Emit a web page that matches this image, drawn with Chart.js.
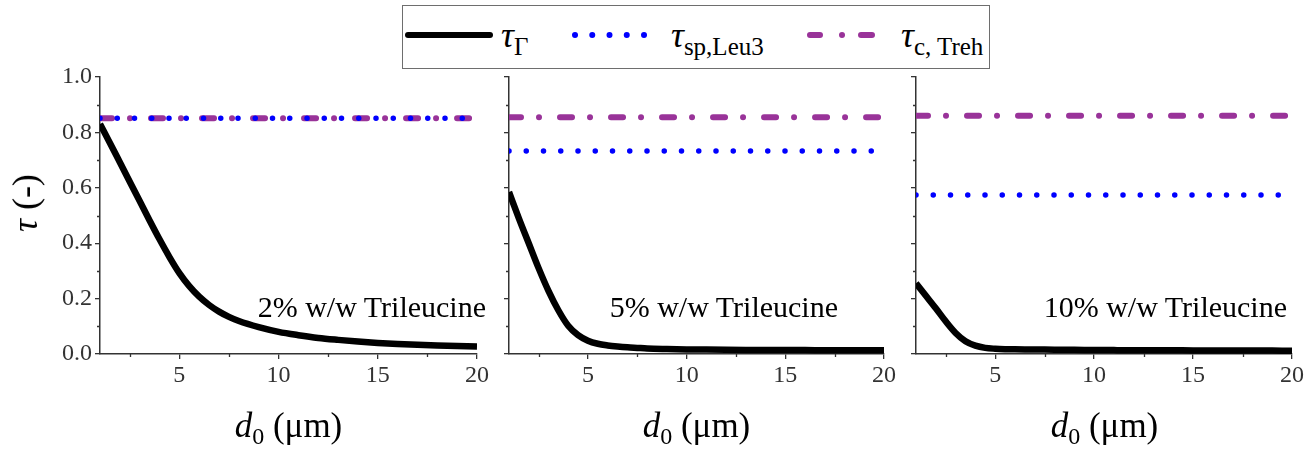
<!DOCTYPE html>
<html>
<head>
<meta charset="utf-8">
<script src="https://cdn.jsdelivr.net/npm/chart.js@4.4.1/dist/chart.umd.min.js"></script>
<style>
html,body{margin:0;padding:0;background:#fff;}
#wrap{position:relative;width:1306px;height:450px;overflow:hidden;background:#fff;font-family:'Liberation Serif','Times New Roman',serif;color:#000;}
canvas{position:absolute;left:0;top:0;}
svg{position:absolute;left:0;top:0;}
.t{position:absolute;white-space:nowrap;line-height:1;}
.sub{position:relative;}
</style>
</head>
<body>
<div id="wrap">
  <canvas id="c0" width="1306" height="450"></canvas>
  <canvas id="c1" width="1306" height="450"></canvas>
  <canvas id="c2" width="1306" height="450"></canvas>
  <svg width="1306" height="75" viewBox="0 0 1306 75">
    <rect x="402.5" y="5.5" width="587" height="63" fill="#fff" stroke="#6e6e6e" stroke-width="1"/>
    <line x1="408" y1="35" x2="490" y2="35" stroke="#000" stroke-width="6" stroke-linecap="round"/>
    <line x1="575" y1="35" x2="645" y2="35" stroke="#0000ff" stroke-width="6" stroke-linecap="round" stroke-dasharray="0.01 17.24"/>
    <line x1="810" y1="35" x2="872" y2="35" stroke="#993399" stroke-width="6" stroke-linecap="round" stroke-dasharray="10 22 0.01 19 11 100"/>
  </svg>
  <div class="t leg" data-x="501" data-b="47" data-fs="36"><i>τ</i><span class="sub" style="font-size:25px;top:8px">Γ</span></div>
  <div class="t leg" data-x="671" data-b="47" data-fs="36"><i>τ</i><span class="sub" style="font-size:25px;top:8px">sp,Leu3</span></div>
  <div class="t leg" data-x="901" data-b="47" data-fs="36"><i>τ</i><span class="sub" style="font-size:25px;top:8px">c, Treh</span></div>

  <div class="t pl" id="pl0"></div>
  <div class="t pl" id="pl1"></div>
  <div class="t pl" id="pl2"></div>

  <div class="t xt" id="xt0"><i>d</i><span class="sub" style="font-size:24px;top:7px">0</span> (μm)</div>
  <div class="t xt" id="xt1"><i>d</i><span class="sub" style="font-size:24px;top:7px">0</span> (μm)</div>
  <div class="t xt" id="xt2"><i>d</i><span class="sub" style="font-size:24px;top:7px">0</span> (μm)</div>

  <div class="t" id="yt" style="font-size:36px;"><i>τ</i> (-)</div>
</div>
<script>
// ---- data ----
const d0 = [1, 1.5, 2, 2.5, 3, 3.5, 4, 4.5, 5, 5.5, 6, 6.5, 7, 7.5, 8, 9, 10, 11, 12, 13, 14, 15, 16, 17, 18, 19, 20];
const tauGamma2 = [0.83, 0.762, 0.692, 0.622, 0.552, 0.482, 0.414, 0.350, 0.292, 0.245, 0.207, 0.177, 0.153, 0.134, 0.119, 0.097, 0.080, 0.068, 0.058, 0.051, 0.045, 0.040, 0.036, 0.033, 0.031, 0.029, 0.027];
const tauGamma5 = [0.585, 0.49, 0.40, 0.31, 0.228, 0.158, 0.102, 0.068, 0.048, 0.037, 0.031, 0.027, 0.024, 0.022, 0.020, 0.018, 0.0165, 0.0158, 0.0152, 0.0148, 0.0145, 0.0142, 0.014, 0.0138, 0.0136, 0.0134, 0.0132];
const tauGamma10 = [0.255, 0.21, 0.165, 0.118, 0.076, 0.046, 0.030, 0.022, 0.019, 0.0175, 0.017, 0.0165, 0.016, 0.0158, 0.0155, 0.015, 0.0145, 0.014, 0.0138, 0.0135, 0.0132, 0.013, 0.0128, 0.0126, 0.0124, 0.0122, 0.012];
const tauSpLeu3 = [0.851, 0.733, 0.574];
const tauCTreh = [0.851, 0.855, 0.86];
const panelLabels = ['2% w/w Trileucine', '5% w/w Trileucine', '10% w/w Trileucine'];
const seriesLabels = ['τΓ', 'τsp,Leu3', 'τc,Treh'];
const xRange = [1, 20];
const yRange = [0, 1];
const xMajorTicks = [5, 10, 15, 20];
const xMinorTicks = [2.5, 7.5, 12.5, 17.5];
const yMajorTicks = [0, 0.2, 0.4, 0.6, 0.8, 1.0];
const yMinorTicks = [0.1, 0.3, 0.5, 0.7, 0.9];

const curves = [tauGamma2, tauGamma5, tauGamma10];

// ---- layout ----
const W = 1306, H = 450;
const areaL = [100, 509, 916], areaR = [477, 884, 1293];
const areaT = 77, areaB = 354;
const xAxisH = 40;
const yAxisW = [60, 10, 10];
const axisColor = '#333';
const tickFont = {family: 'Liberation Serif, serif', size: 24};

const minorTicks = {
  id: 'minorTicks',
  afterDraw(chart) {
    const ctx = chart.ctx, x = chart.scales.x, y = chart.scales.y;
    ctx.save();
    ctx.strokeStyle = axisColor;
    ctx.lineWidth = 1.3;
    ctx.beginPath();
    xMinorTicks.forEach(v => { const p = Math.round(x.getPixelForValue(v)) + 0.5; ctx.moveTo(p, y.bottom); ctx.lineTo(p, y.bottom + 3); });
    yMinorTicks.forEach(v => { const p = Math.round(y.getPixelForValue(v)) + 0.5; ctx.moveTo(x.left, p); ctx.lineTo(x.left - 3, p); });
    ctx.stroke();
    ctx.restore();
  }
};

function build() {
  Chart.defaults.font.family = 'Liberation Serif, serif';
  for (let i = 0; i < 3; i++) {
    new Chart(document.getElementById('c' + i), {
      type: 'line',
      data: {
        datasets: [
          {
            label: seriesLabels[0],
            data: d0.map((x, k) => ({x: x, y: curves[i][k]})),
            borderColor: '#000', borderWidth: 6.5, pointRadius: 0,
            cubicInterpolationMode: 'monotone', borderCapStyle: 'butt', borderJoinStyle: 'round'
          },
          {
            label: seriesLabels[1],
            data: xRange.map(x => ({x: x, y: tauSpLeu3[i]})),
            borderColor: '#0000ff', borderWidth: 5.5, pointRadius: 0,
            borderDash: [0.01, 17.24], borderCapStyle: 'round'
          },
          {
            label: seriesLabels[2],
            data: xRange.map(x => ({x: x, y: tauCTreh[i]})),
            borderColor: '#993399', borderWidth: 6, pointRadius: 0,
            borderDash: [12, 18, 0.01, 21], borderCapStyle: 'round'
          }
        ]
      },
      options: {
        responsive: false, animation: false, events: [],
        layout: {padding: {left: areaL[i] - yAxisW[i], right: W - areaR[i], top: areaT, bottom: H - areaB - xAxisH}},
        plugins: {legend: {display: false}, tooltip: {enabled: false}},
        scales: {
          x: {
            type: 'linear', min: xRange[0], max: xRange[1],
            afterBuildTicks: s => { s.ticks = xMajorTicks.map(v => ({value: v})); },
            afterFit: s => { s.height = xAxisH; },
            grid: {drawOnChartArea: false, drawTicks: true, tickLength: 5, color: axisColor, lineWidth: 1.3},
            border: {display: true, color: axisColor, width: 1.5},
            ticks: {font: tickFont, color: axisColor, padding: 2, maxRotation: 0, autoSkip: false}
          },
          y: {
            type: 'linear', min: yRange[0], max: yRange[1],
            afterBuildTicks: s => { s.ticks = yMajorTicks.map(v => ({value: v})); },
            afterFit: s => { s.width = yAxisW[i]; },
            grid: {drawOnChartArea: false, drawTicks: true, tickLength: 5, color: axisColor, lineWidth: 1.3},
            border: {display: true, color: axisColor, width: 1.5},
            ticks: {font: tickFont, color: axisColor, padding: 3, autoSkip: false,
                    callback: i === 0 ? (v => Number(v).toFixed(1)) : (() => '')}
          }
        }
      },
      plugins: [minorTicks]
    });
  }
}

// ---- text placement (baseline-based) ----
const ASC = 0.8375;
function place(el, x, base, fs, align) {
  el.style.fontSize = fs + 'px';
  el.style.top = (base - ASC * fs) + 'px';
  el.style.left = x + 'px';
  if (align === 'right') el.style.transform = 'translateX(-100%)';
  else if (align === 'center') el.style.transform = 'translateX(-50%)';
}
document.querySelectorAll('.leg').forEach(el => place(el, +el.dataset.x, +el.dataset.b, +el.dataset.fs, 'left'));
const plRight = [486, 838, 1287];
for (let i = 0; i < 3; i++) {
  const pl = document.getElementById('pl' + i);
  pl.textContent = panelLabels[i];
  place(pl, plRight[i], 317, 30, 'right');
  place(document.getElementById('xt' + i), (areaL[i] + areaR[i]) / 2, 437, 35, 'center');
}
const yt = document.getElementById('yt');
yt.style.left = '25px'; yt.style.top = '203px';
yt.style.transform = 'translate(-50%,-50%) rotate(-90deg)';

if (document.fonts && document.fonts.load) {
  Promise.all([
    document.fonts.load('22px "Liberation Serif"'),
    document.fonts.load('italic 22px "Liberation Serif"')
  ]).then(build, build);
} else {
  build();
}
</script>
</body>
</html>
